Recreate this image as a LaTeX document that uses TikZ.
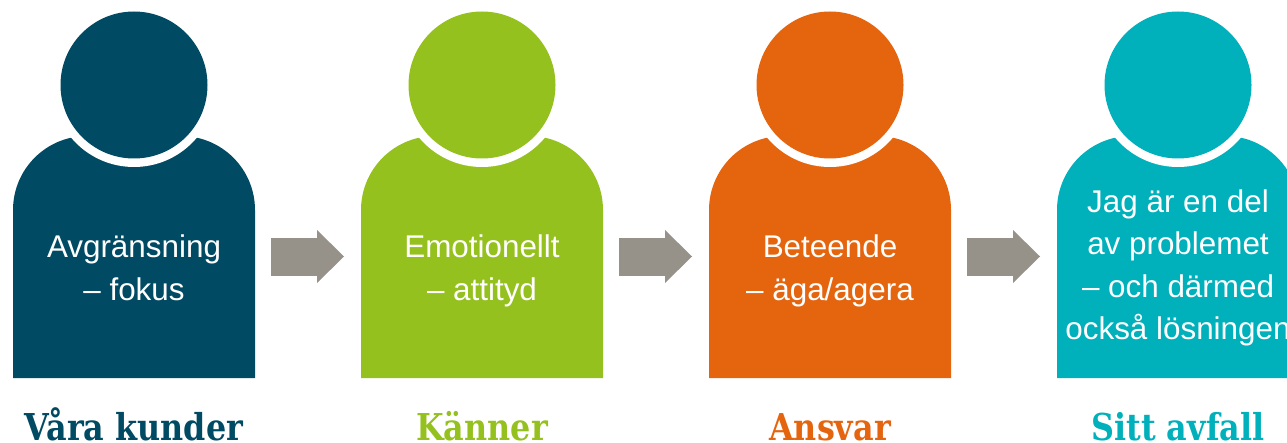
\documentclass[tikz,border=0pt]{standalone}
\usepackage{fontspec}
\setmainfont{Liberation Sans}
\newfontfamily\slabfont[FakeStretch=0.86]{DejaVu Serif}
\definecolor{cnavy}{HTML}{004A63}
\definecolor{cgreen}{HTML}{95C11F}
\definecolor{corange}{HTML}{E5650F}
\definecolor{cteal}{HTML}{00B0BB}
\definecolor{carrow}{HTML}{96928A}
\tikzset{
  x=1pt,y=1pt,
  bodytext/.style={text=white,align=center,inner sep=0pt,font=\fontsize{31.4}{42.5}\selectfont},
  titletext/.style={anchor=base,inner sep=0pt,font=\fontsize{37}{40}\slabfont\bfseries},
  arrowpart/.style={fill=carrow,draw=none}
}
\begin{document}
\begin{tikzpicture}
\useasboundingbox (0,0) rectangle (1287,442);
\clip (0,0) rectangle (1287,442);
\foreach \cx/\col in {134/cnavy,482/cgreen,830/corange,1178/cteal}{
  \fill[\col] (\cx-121,64) -- (\cx-121,232) arc[start angle=180,end angle=90,radius=74] -- (\cx+47,306) arc[start angle=90,end angle=0,radius=74] -- (\cx+121,64) -- cycle;
  \fill[white] (\cx,357) circle[radius=82];
  \fill[\col] (\cx,357) circle[radius=73.5];
}
\foreach \ax in {271,619,967}{
  \fill[arrowpart] (\ax,166) rectangle (\ax+46.5,204);
  \fill[arrowpart] (\ax+46,212) -- (\ax+73,185.5) -- (\ax+46,159) -- cycle;
}
\node[bodytext] (t1) at (134,174) {Avgränsning\\– fokus};
\node[bodytext] (t2) at (482,171) {Emotionellt\\– attityd};
\node[bodytext] (t3) at (830,171) {Beteende\\– äga/agera};
\node[bodytext] (t4) at (1178,174) {Jag är en del\\av problemet\\– och därmed\\också lösningen};
\node[titletext,text=cnavy] (h1) at (134,2) {Våra kunder};
\node[titletext,text=cgreen] (h2) at (482,2) {Känner};
\node[titletext,text=corange] (h3) at (830,2) {Ansvar};
\node[titletext,text=cteal] (h4) at (1178,2) {Sitt avfall};
\end{tikzpicture}
\end{document}
